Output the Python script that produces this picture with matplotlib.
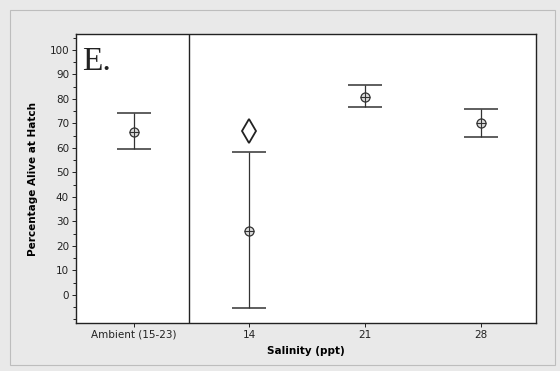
import matplotlib
matplotlib.use("Agg")
import matplotlib.pyplot as plt
from matplotlib.patches import Rectangle
from matplotlib.ticker import MultipleLocator

categories = ["Ambient (15-23)", "14", "21", "28"]
means = [66.5, 26.2, 80.7, 70.1]
upper = [74.3, 58.5, 85.6, 75.9]
lower = [59.6, -5.3, 76.7, 64.4]
diamond_cat = [1]
diamond_val = [67.0]
yticks = [0, 10, 20, 30, 40, 50, 60, 70, 80, 90, 100]

fig = plt.figure(figsize=(5.6, 3.71), dpi=100)
fig.patch.set_facecolor("#e9e9e9")
fig.patches.append(Rectangle((10/560, 6/371), 545/560, 355/371, transform=fig.transFigure,
                             fill=False, edgecolor="#bdbdbd", linewidth=0.8))

ax = fig.add_axes([76/560, 1-323/371, 460/560, 289/371])
ax.set_facecolor("white")
x = list(range(len(categories)))
yerr = [[m - l for m, l in zip(means, lower)], [u - m for m, u in zip(means, upper)]]
ax.errorbar(x, means, yerr=yerr, fmt="none", ecolor="#333333", elinewidth=0.9,
            capsize=12, capthick=1.1)
ax.plot(x, means, "o", markersize=6.5, markerfacecolor="#dddddd", markeredgecolor="#333333",
        markeredgewidth=0.9, linestyle="none")
ax.plot(x, means, "+", markersize=6.5, color="#333333", markeredgewidth=0.8, linestyle="none")
ax.plot(diamond_cat, diamond_val, "d", markersize=12, markerfacecolor="white",
        markeredgecolor="#222222", markeredgewidth=1.3, linestyle="none")

ax.axvline(0.48, color="#222222", linewidth=1.0)
ax.set_xlim(-0.5, 3.48)
ax.set_ylim(-11.5, 106.5)
ax.set_xticks(x)
ax.set_xticklabels(categories, fontsize=7.5)
ax.set_yticks(yticks)
ax.set_yticklabels([str(v) for v in yticks], fontsize=7.5)
ax.yaxis.set_minor_locator(MultipleLocator(5))
ax.tick_params(axis="both", which="major", length=3, width=0.7, colors="#222222", pad=2)
ax.tick_params(axis="y", which="minor", length=2, width=0.6)
for s in ax.spines.values():
    s.set_linewidth(1.0)
    s.set_color("#222222")
ax.set_ylabel("Percentage Alive at Hatch", fontsize=7.5, fontweight="bold", labelpad=8)
ax.set_xlabel("Salinity (ppt)", fontsize=7.5, fontweight="bold", labelpad=4)
ax.text(-0.45, 95, "E.", fontsize=24, family="Liberation Serif", va="center", ha="left", color="#222222")

fig.savefig("out.png", dpi=100, facecolor=fig.get_facecolor())
